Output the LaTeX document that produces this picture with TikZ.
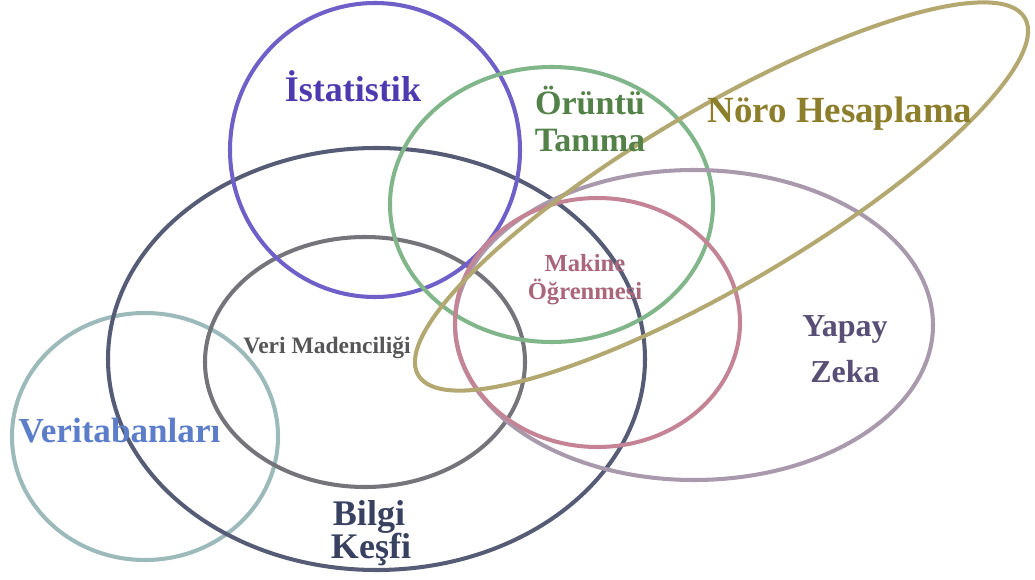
\documentclass[tikz,border=0pt]{standalone}
\usepackage{fontspec}
\setmainfont{Liberation Serif}
\begin{document}
\begin{tikzpicture}[x=0.02cm,y=0.02cm,
  ring/.style={line width=2.3pt},
  lbl/.style={font=\bfseries, anchor=base, inner sep=0pt, align=center}]
\definecolor{statC}{RGB}{110,96,200}
\definecolor{statT}{RGB}{78,58,176}
\definecolor{patC}{RGB}{128,182,138}
\definecolor{patT}{RGB}{82,130,72}
\definecolor{neuC}{RGB}{178,168,112}
\definecolor{neuT}{RGB}{140,126,42}
\definecolor{aiC}{RGB}{168,154,172}
\definecolor{aiT}{RGB}{88,78,118}
\definecolor{mlC}{RGB}{196,132,150}
\definecolor{mlT}{RGB}{170,102,122}
\definecolor{kdC}{RGB}{86,92,118}
\definecolor{kdT}{RGB}{56,66,96}
\definecolor{dmC}{RGB}{116,116,122}
\definecolor{dmT}{RGB}{86,86,88}
\definecolor{dbC}{RGB}{156,186,186}
\definecolor{dbT}{RGB}{92,126,202}

\fill[white] (0,0) rectangle (1035,579);
\useasboundingbox (0,0) rectangle (1035,579);

% fields as outlined regions
\draw[ring, dbC] (145,142.5) ellipse [x radius=133, y radius=123.5];
\draw[ring, kdC] (376.5,220) ellipse [x radius=268.5, y radius=211];
\draw[ring, dmC] (365,217) ellipse [x radius=160, y radius=125];
\draw[ring, statC] (375,429) ellipse [x radius=145, y radius=147];
\draw[ring, patC] (551.5,374.5) ellipse [x radius=161.5, y radius=137.5];
\draw[ring, aiC] (694,254) ellipse [x radius=239, y radius=155];
\draw[ring, mlC] (597.5,256.5) ellipse [x radius=142.5, y radius=124.5];
\draw[ring, neuC, rotate around={30.5:(721.5,382.5)}] (721.5,382.5) ellipse [x radius=352, y radius=88];

% labels
\node[lbl, statT, font=\bfseries\fontsize{20.5}{22}\selectfont] (stat) at (353,477) {İstatistik};
\node[lbl, patT, font=\bfseries\fontsize{19.4}{21}\selectfont] (pat1) at (590,464) {Örüntü};
\node[lbl, patT, font=\bfseries\fontsize{19.4}{21}\selectfont] (pat2) at (590,427) {Tanıma};
\node[lbl, neuT, font=\bfseries\fontsize{21}{23}\selectfont] (neu) at (840,456) {Nöro Hesaplama};
\node[lbl, mlT, font=\bfseries\fontsize{14}{16}\selectfont] (ml1) at (585,308) {Makine};
\node[lbl, mlT, font=\bfseries\fontsize{14}{16}\selectfont] (ml2) at (585,279) {Öğrenmesi};
\node[lbl, dmT, font=\bfseries\fontsize{13.4}{15}\selectfont] (dm) at (327,226) {Veri Madenciliği};
\node[lbl, dbT, font=\bfseries\fontsize{20}{22}\selectfont] (db) at (119.5,137) {Veritabanları};
\node[lbl, kdT, font=\bfseries\fontsize{20.5}{22}\selectfont] (kd1) at (369,54) {Bilgi};
\node[lbl, kdT, font=\bfseries\fontsize{20.5}{22}\selectfont] (kd2) at (371,21) {Keşfi};
\node[lbl, aiT, font=\bfseries\fontsize{18.2}{20}\selectfont] (ai1) at (845,243) {Yapay};
\node[lbl, aiT, font=\bfseries\fontsize{18.2}{20}\selectfont] (ai2) at (845,197) {Zeka};
\end{tikzpicture}
\end{document}
